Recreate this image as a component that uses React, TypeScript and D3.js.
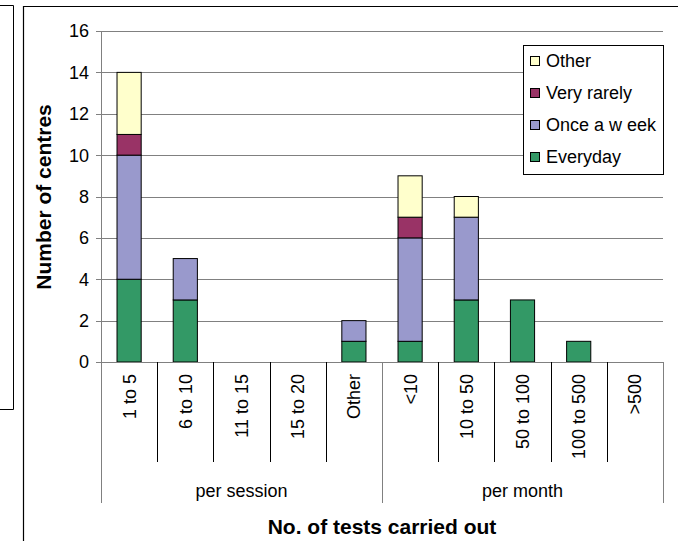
import React from 'react';
import * as d3 from 'd3';

const categories = ["1 to 5", "6 to 10", "11 to 15", "15 to 20", "Other", "<10", "10 to 50", "50 to 100", "100 to 500", ">500"];
const groups = [
    { name: "per session", size: 5 },
    { name: "per month", size: 5 },
];
const seriesNames = ["Everyday", "Once a week", "Very rarely", "Other"];
const everyday = [4, 3, 0, 0, 1, 1, 3, 3, 1, 0];
const onceAWeek = [6, 2, 0, 0, 1, 5, 4, 0, 0, 0];
const veryRarely = [1, 0, 0, 0, 0, 1, 0, 0, 0, 0];
const other = [3, 0, 0, 0, 0, 2, 1, 0, 0, 0];
const yTicks = [0, 2, 4, 6, 8, 10, 12, 14, 16];
const legendLabels = ["Other", "Very rarely", "Once a w eek", "Everyday"];

const colors = ["#339966", "#9999CC", "#993366", "#FFFFCC"];

export default function App() {
    const width = 678;
    const height = 541;
    const margin = { top: 31, bottom: 179, left: 101, right: 15 };
    const font = "'Liberation Sans', Arial, sans-serif";

    // table for d3.stack
    const rows = categories.map((c, i) => ({
        cat: c,
        "Everyday": everyday[i],
        "Once a week": onceAWeek[i],
        "Very rarely": veryRarely[i],
        "Other": other[i],
    }));
    const stacked = d3.stack<any>().keys(seriesNames)(rows);

    const x = d3.scaleBand()
        .domain(categories)
        .range([margin.left, width - margin.right])
        .paddingInner(0)
        .paddingOuter(0);

    const y = d3.scaleLinear()
        .domain([0, 16])
        .range([height - margin.bottom, margin.top]);

    const color = d3.scaleOrdinal<string>().domain(seriesNames).range(colors);

    const bw = x.bandwidth() * 0.43;
    const y0 = y(0);
    const xRight = width - margin.right;

    // legend box
    const lg = { x: 523, y: 45, w: xRight - 523, h: 129 };

    // group boundaries (in category index)
    let acc = 0;
    const groupBounds = groups.map(g => {
        const start = acc;
        acc += g.size;
        return { name: g.name, start, end: acc };
    });
    const edge = (i: number) => i < categories.length ? x(categories[i])! : xRight;

    return (
        <svg width={width} height={height} style={{ position: 'absolute', left: 0, top: 0 }} fontFamily={font}>
            <rect x={0} y={0} width={width} height={height} fill="white" />
            {/* neighbouring chart frame */}
            <path d="M0,5.5 H13.5 V409.5 H0" fill="none" stroke="black" strokeWidth={1} />
            {/* chart frame */}
            <path d={`M23.5,${height + 2} V6.5 H${width + 2}`} fill="none" stroke="black" strokeWidth={1.2} />

            {/* gridlines */}
            {yTicks.filter(t => t > 0).map(t => (
                <line key={t} x1={margin.left} x2={xRight} y1={Math.round(y(t)) + 0.5} y2={Math.round(y(t)) + 0.5} stroke="#808080" strokeWidth={1} />
            ))}

            {/* bars */}
            {stacked.map(s => (
                <g key={s.key} fill={color(s.key)}>
                    {s.map((d, i) => d[1] - d[0] > 0 ? (
                        <rect key={i}
                            x={x(categories[i])! + (x.bandwidth() - bw) / 2}
                            y={y(d[1])}
                            width={bw}
                            height={y(d[0]) - y(d[1])}
                            stroke="black" strokeWidth={1} />
                    ) : null)}
                </g>
            ))}

            {/* y axis */}
            <line x1={margin.left + 0.5} x2={margin.left + 0.5} y1={margin.top} y2={y0} stroke="#808080" />
            {yTicks.map(t => (
                <g key={t}>
                    <line x1={margin.left - 5} x2={margin.left} y1={Math.round(y(t)) + 0.5} y2={Math.round(y(t)) + 0.5} stroke="#808080" />
                    <text x={89} y={y(t)} dy="0.36em" textAnchor="end" fontSize={18} fill="black">{t}</text>
                </g>
            ))}
            <text transform={`translate(51,197) rotate(-90)`} textAnchor="middle" fontSize={21} fontWeight="bold">Number of centres</text>

            {/* x axis */}
            <line x1={margin.left} x2={xRight} y1={y0 + 0.5} y2={y0 + 0.5} stroke="#808080" />
            {categories.map((c, i) => (
                <g key={c}>
                    <text transform={`translate(${x(c)! + x.bandwidth() / 2},374) rotate(-90)`} textAnchor="end" dy="0.36em" fontSize={18}>{c}</text>
                </g>
            ))}
            {d3.range(categories.length + 1).map(i => {
                const isGroupEdge = groupBounds.some(g => g.start === i || g.end === i);
                return (
                    <line key={i} x1={Math.round(edge(i)) + 0.5} x2={Math.round(edge(i)) + 0.5} y1={y0} y2={isGroupEdge ? 503 : 462} stroke={isGroupEdge ? "#808080" : "black"} />
                );
            })}
            {groupBounds.map(g => (
                <text key={g.name} x={(edge(g.start) + edge(g.end)) / 2} y={497} textAnchor="middle" fontSize={18}>{g.name}</text>
            ))}
            <text x={(margin.left + xRight) / 2} y={534} textAnchor="middle" fontSize={21} fontWeight="bold">No. of tests carried out</text>

            {/* legend */}
            <rect x={lg.x + 0.5} y={lg.y + 0.5} width={lg.w} height={lg.h} fill="white" stroke="black" />
            {legendLabels.map((l, i) => {
                const cy = 61 + i * 32;
                return (
                    <g key={l}>
                        <rect x={530.5} y={cy - 4.5} width={9} height={9} fill={color(seriesNames[seriesNames.length - 1 - i])} stroke="black" />
                        <text x={546} y={cy} dy="0.36em" fontSize={18}>{l}</text>
                    </g>
                );
            })}
        </svg>
    );
}
